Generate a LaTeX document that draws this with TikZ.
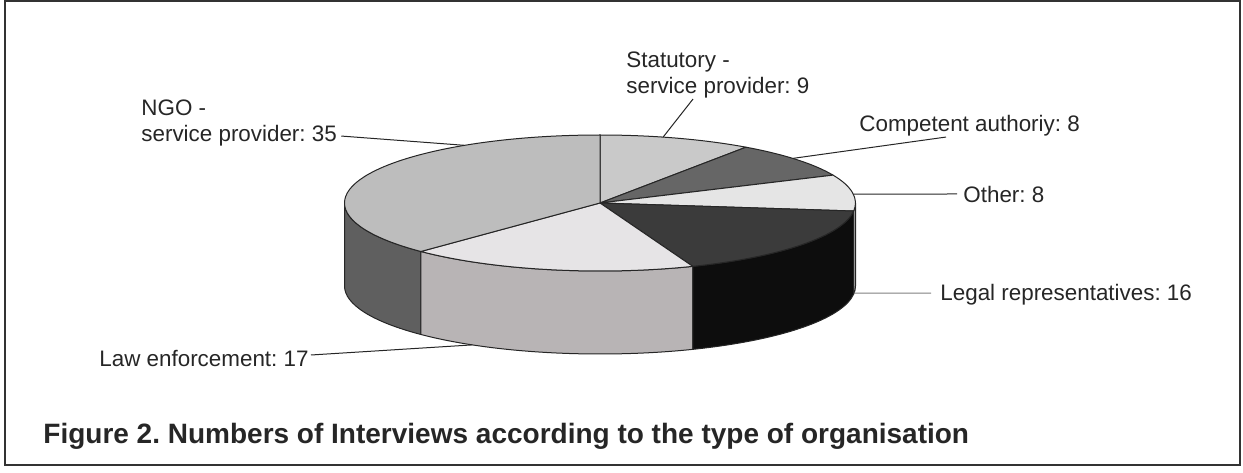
\documentclass[tikz,border=0pt]{standalone}
\usepackage{fontspec}
\setmainfont{Liberation Sans}
\frenchspacing

\definecolor{txt}{HTML}{262626}
\definecolor{frame}{HTML}{333333}
\definecolor{statTop}{HTML}{C9C9C9}
\definecolor{compTop}{HTML}{666666}
\definecolor{otherTop}{HTML}{E5E5E5}
\definecolor{otherSide}{HTML}{A8A8A8}
\definecolor{legalTop}{HTML}{3B3B3B}
\definecolor{legalSide}{HTML}{0D0D0D}
\definecolor{lawTop}{HTML}{E6E4E6}
\definecolor{lawSide}{HTML}{B8B4B5}
\definecolor{ngoTop}{HTML}{BDBDBD}
\definecolor{ngoSide}{HTML}{5F5F5F}

\begin{document}
\begin{tikzpicture}[x=0.5pt, y=0.5pt,
  lbl/.style={inner sep=0pt, anchor=base west, align=left, text=txt,
    font=\fontsize{11.2}{13.4}\selectfont},
  leader/.style={draw=txt, line width=0.5pt},
  rim/.style={draw=black!85, line width=0.5pt, line join=round}]
\useasboundingbox (0,0) rectangle (1243,472);
\draw[frame, line width=1pt] (5,7) rectangle (1240,471);

% the pie: 93 interviews, clockwise from the top
\begin{scope}[shift={(600,269)}, rim]
  \foreach \from/\to/\col in {180/225.484/ngoSide, 225.484/291.290/lawSide,
      291.290/353.226/legalSide, 353.226/360/otherSide}
    \filldraw[fill=\col] (\from:255.5 and 68)
      arc[start angle=\from, end angle=\to, x radius=255.5, y radius=68]
      -- ++(0,-83)
      arc[start angle=\to, end angle=\from, x radius=255.5, y radius=68] -- cycle;
  \foreach \from/\to/\col in {55.161/90/statTop, 24.194/55.161/compTop,
      -6.774/24.194/otherTop, -68.710/-6.774/legalTop,
      -134.516/-68.710/lawTop, 90/225.484/ngoTop}
    \filldraw[fill=\col] (0,0) -- (\from:255.5 and 68)
      arc[start angle=\from, end angle=\to, x radius=255.5, y radius=68] -- cycle;

  \coordinate (ngotip) at (122:255.5 and 68);
  \coordinate (stattip) at (75.7:255.5 and 68);
  \coordinate (comptip) at (41:255.5 and 68);
  \coordinate (othertip) at (7.6:255.5 and 68);
  \coordinate (legaltip) at ([shift={(0,-83)}]-6:255.5 and 68);
  \coordinate (lawtip) at ([shift={(0,-83)}]-120:255.5 and 68);
\end{scope}

% two-line labels sit on their last baseline
\node[lbl] (stat) at (626,378) {Statutory -\\service provider: 9};
\node[lbl] (ngo) at (141,330) {NGO -\\service provider: 35};
\node[lbl] (comp) at (859,340) {Competent authoriy: 8};
\node[lbl] (other) at (963,270) {Other: 8};
\node[lbl] (legal) at (940,171) {Legal representatives: 16};
\node[lbl] (law) at (99,106) {Law enforcement: 17};

\draw[leader] ([shift={(4,11)}]ngo.south east) -- (ngotip);
\draw[leader] ([shift={(67,0)}]stat.south west) -- (stattip);
\draw[leader] ([shift={(87,0)}]comp.south west) -- (comptip);
\draw[leader] ([shift={(-6,8)}]other.base west) -- (othertip);
\draw[leader, draw=gray] ([shift={(-9,8)}]legal.base west) -- (legaltip);
\draw[leader] ([shift={(2,11)}]law.base east) -- (lawtip);

\node[lbl, font=\bfseries\fontsize{14}{16}\selectfont] (caption) at (43,29)
  {Figure 2. Numbers of Interviews according to the type of organisation};
\end{tikzpicture}
\end{document}
